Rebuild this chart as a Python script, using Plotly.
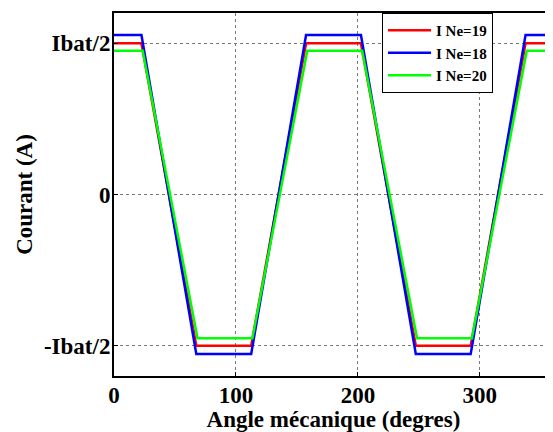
import plotly.graph_objects as go

# Data (current in units of Ibat/2, angle in mechanical degrees)
angle_ne19 = [0, 22.5, 67.5, 112.5, 157.5, 202.5, 247.5, 292.5, 337.5, 360]
i_ne19 = [1.0, 1.0, -1.0, -1.0, 1.0, 1.0, -1.0, -1.0, 1.0, 1.0]

angle_ne18 = [0, 22.5, 67.5, 112.5, 157.5, 202.5, 247.5, 292.5, 337.5, 360]
i_ne18 = [1.055, 1.055, -1.055, -1.055, 1.055, 1.055, -1.055, -1.055, 1.055, 1.055]

angle_ne20 = [0, 23.5, 68.5, 113.5, 158.5, 203.5, 248.5, 293.5, 338.5, 360]
i_ne20 = [0.95, 0.95, -0.95, -0.95, 0.95, 0.95, -0.95, -0.95, 0.95, 0.95]

series_names = ["I Ne=19", "I Ne=18", "I Ne=20"]
x_ticks = [0, 100, 200, 300]
y_ticks = [-1, 0, 1]
y_tick_labels = ["-Ibat/2", "0", "Ibat/2"]

font_family = "Liberation Serif, Times New Roman, serif"

fig = go.Figure()
for name, xs, ys, col in [
    (series_names[0], angle_ne19, i_ne19, "rgb(255,0,0)"),
    (series_names[1], angle_ne18, i_ne18, "rgb(0,0,255)"),
    (series_names[2], angle_ne20, i_ne20, "rgb(0,255,0)"),
]:
    fig.add_trace(go.Scatter(x=xs, y=ys, mode="lines", name=name,
                             line=dict(color=col, width=2.5)))

# page body has an 8px margin, so the figure is 545x424 placed at (8,8)
fig.update_layout(
    width=545, height=424,
    margin=dict(l=106, r=0, t=5, b=56),
    paper_bgcolor="white", plot_bgcolor="white",
    font=dict(family=font_family, color="black", size=23),
    showlegend=True,
    legend=dict(
        x=0.6105, y=1, xanchor="left", yanchor="top",
        bgcolor="white", bordercolor="black", borderwidth=1,
        font=dict(family=font_family, size=15, color="black", weight="bold"),
        itemwidth=43, tracegroupgap=0,
    ),
)

fig.update_xaxes(
    range=[0, 360], tickvals=x_ticks,
    showgrid=True, gridcolor="rgb(120,120,120)", griddash="dot", gridwidth=1,
    showline=True, linecolor="black", linewidth=2, mirror=True,
    ticks="inside", ticklen=4, tickcolor="black", ticklabelstandoff=-3,
    tickfont=dict(family=font_family, size=23, color="black", weight="bold"),
    title=dict(text="Angle mécanique (degres)", standoff=0,
               font=dict(family=font_family, size=23, color="black", weight="bold")),
    zeroline=False, automargin=False,
)
fig.update_yaxes(
    range=[-1.2, 1.2], tickvals=y_ticks, ticktext=y_tick_labels,
    showgrid=True, gridcolor="rgb(120,120,120)", griddash="dot", gridwidth=1,
    showline=True, linecolor="black", linewidth=2, mirror=True,
    ticks="inside", ticklen=4, tickcolor="black", ticklabelstandoff=-3,
    tickfont=dict(family=font_family, size=23, color="black", weight="bold"),
    title=dict(text="Courant (A)", standoff=5,
               font=dict(family=font_family, size=23, color="black", weight="bold")),
    zeroline=False, automargin=False,
)

fig.write_html("out.html")
